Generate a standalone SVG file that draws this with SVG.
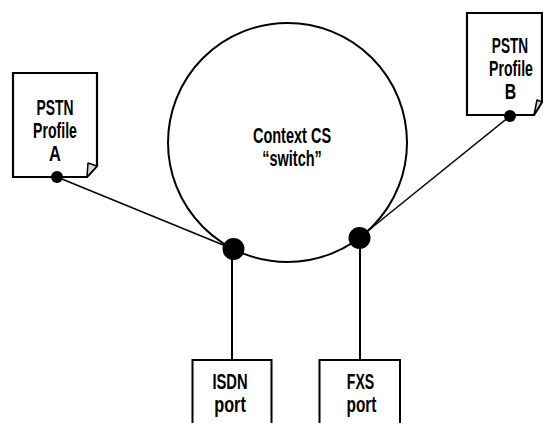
<svg xmlns="http://www.w3.org/2000/svg" width="543" height="423" viewBox="0 0 543 423">
<style>
.t{font-family:"Liberation Sans",Arial,sans-serif;font-size:22px;font-weight:bold;fill:#000;text-anchor:middle}
.page{fill:#fff;stroke:#000;stroke-width:2.2;stroke-linejoin:miter}
.flap{fill:#d8d8d8;stroke:#000;stroke-width:1.5;stroke-linejoin:round}
.box{fill:#fff;stroke:#000;stroke-width:2}
.ln{stroke:#000;fill:none}
.dot{fill:#000}
</style>
<rect width="543" height="423" fill="#fff"/>
<g id="connectors">
<line class="ln" x1="57" y1="177" x2="233" y2="249" stroke-width="1.5"/>
<line class="ln" x1="510" y1="116" x2="359" y2="238" stroke-width="1.5"/>
<line class="ln" x1="232" y1="249" x2="232" y2="360" stroke-width="2"/>
<line class="ln" x1="360" y1="238" x2="360" y2="360" stroke-width="2"/>
</g>
<g id="context-cs">
<circle cx="287.5" cy="142.5" r="119.5" fill="none" stroke="#000" stroke-width="2"/>
<text class="t" transform="translate(292,143) scale(0.66,1)">Context CS</text>
<text class="t" transform="translate(292,166) scale(0.66,1)">“switch”</text>
</g>
<g id="profile-a">
<path class="page" d="M13,73 H97 V166 L87,177 H13 Z"/>
<path class="flap" d="M97,166 L88,163 L87,177 Z"/>
<text class="t" transform="translate(55,115) scale(0.63,1)">PSTN</text>
<text class="t" transform="translate(55,138) scale(0.64,1)">Profile</text>
<text class="t" transform="translate(55,161) scale(0.75,1)">A</text>
<circle class="dot" cx="57" cy="177" r="6"/>
</g>
<g id="profile-b">
<path class="page" d="M467,13 H542 V102 L534,115 H467 Z"/>
<path class="flap" d="M542,102 L537,100 L534,115 Z"/>
<text class="t" transform="translate(510,53) scale(0.62,1)">PSTN</text>
<text class="t" transform="translate(511,76) scale(0.64,1)">Profile</text>
<text class="t" transform="translate(510.5,99) scale(0.72,1)">B</text>
<circle class="dot" cx="510" cy="116" r="6"/>
</g>
<g id="port-left">
<circle class="dot" cx="233.5" cy="249" r="11"/>
</g>
<g id="port-right">
<circle class="dot" cx="359.5" cy="238" r="11"/>
</g>
<g id="isdn-port">
<rect class="box" x="192.5" y="360" width="79" height="80"/>
<text class="t" transform="translate(230,389) scale(0.67,1)">ISDN</text>
<text class="t" transform="translate(230,412) scale(0.74,1)">port</text>
</g>
<g id="fxs-port">
<rect class="box" x="319.5" y="360" width="80.5" height="80"/>
<text class="t" transform="translate(360.5,389) scale(0.64,1)">FXS</text>
<text class="t" transform="translate(361.5,412) scale(0.7,1)">port</text>
</g>
</svg>
